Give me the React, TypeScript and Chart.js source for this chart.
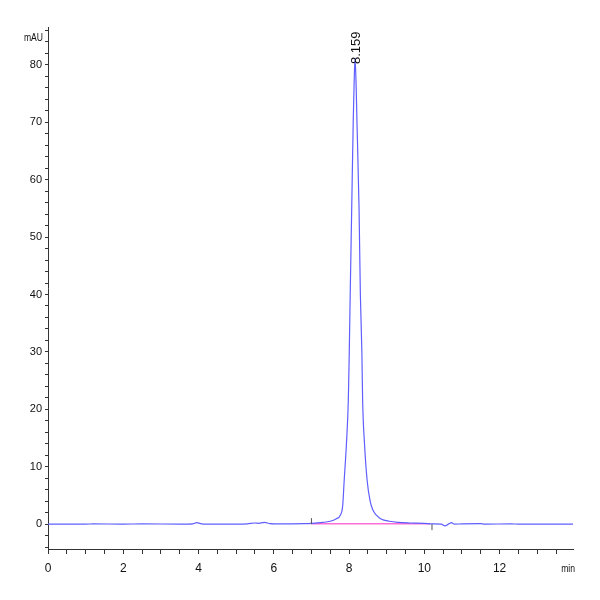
import React, {useEffect, useRef} from "react";
import {Chart, registerables} from 'chart.js';

Chart.register(...registerables);

// retention time (min) and signal (mAU)
const times: number[] = [
    0, 1.0, 1.2, 2.0, 2.5, 3.5, 3.85, 3.95, 4.05, 4.2, 5.0, 5.3, 5.5, 5.6, 5.75, 5.9, 6.2, 6.8,
    7.0, 7.3, 7.5, 7.65, 7.77, 7.83, 7.87, 7.93, 7.98, 8.005, 8.03, 8.07, 8.11, 8.135, 8.159,
    8.185, 8.21, 8.265, 8.30, 8.34, 8.36, 8.41, 8.48, 8.56, 8.63, 8.72, 8.85, 9.07, 9.3, 9.6,
    10.0, 10.2, 10.45, 10.55, 10.65, 10.72, 10.8, 11.0, 11.5, 11.6, 12.3, 12.5, 13.95,
];
const signal: number[] = [
    0, 0, 0.05, 0, 0.05, 0, 0.05, 0.25, 0.1, 0, 0, 0.05, 0.2, 0.15, 0.3, 0.1, 0.05, 0.1,
    0.15, 0.3, 0.5, 0.9, 1.6, 3.2, 7.6, 14, 21.6, 30, 40, 55, 70, 77, 81.2,
    77, 70, 55, 40, 30, 21.6, 14, 7.6, 4.0, 2.5, 1.6, 0.9, 0.5, 0.3, 0.2,
    0.15, 0.05, 0, -0.3, 0.05, 0.25, 0, 0.05, 0.1, 0, 0.05, 0, 0,
];
const baselineTimes: number[] = [7.0, 10.15];
const baselineValues: number[] = [0.05, 0.05];
const peakTime = 8.159;
const peakHeight = 81.2;
const peakLabel = '8.159';
const xMajorTicks: number[] = [0, 2, 4, 6, 8, 10, 12];
const yMajorTicks: number[] = [0, 10, 20, 30, 40, 50, 60, 70, 80];

const FONT = '"Liberation Sans", Arial, sans-serif';

const ChromChart: React.FC = () => {
    const canvasRef = useRef<HTMLCanvasElement>(null);

    useEffect(() => {
        if (!canvasRef.current) return;
        const ctx = canvasRef.current.getContext('2d');
        if (!ctx) return;

        const extras = {
            id: 'extras',
            afterDraw(chart: any) {
                const c = chart.ctx;
                const xs = chart.scales.x;
                const ys = chart.scales.y;
                c.save();
                c.fillStyle = '#111';
                c.font = '11px ' + FONT;
                c.textBaseline = 'middle';
                // narrow axis unit labels
                c.save();
                c.translate(43, 38);
                c.scale(0.78, 1);
                c.textAlign = 'right';
                c.fillText('mAU', 0, 0);
                c.restore();
                c.save();
                c.translate(575, 569);
                c.scale(0.78, 1);
                c.textAlign = 'right';
                c.fillText('min', 0, 0);
                c.restore();
                // peak label, rotated
                const px = xs.getPixelForValue(peakTime);
                const py = ys.getPixelForValue(peakHeight);
                c.font = '13px ' + FONT;
                c.translate(px + 1, py + 6);
                c.rotate(-Math.PI / 2);
                c.textAlign = 'left';
                c.fillText(peakLabel, 0, 0);
                c.restore();
                // integration marks
                c.save();
                c.strokeStyle = '#555';
                c.lineWidth = 1;
                const b0 = xs.getPixelForValue(baselineTimes[0]);
                const b1 = xs.getPixelForValue(baselineTimes[1]) + 2;
                const by = ys.getPixelForValue(0);
                c.beginPath();
                c.moveTo(b0, by - 6);
                c.lineTo(b0, by);
                c.moveTo(b1, by);
                c.lineTo(b1, by + 6);
                c.stroke();
                c.restore();
            },
        };

        const chart = new Chart(ctx, {
            type: 'line',
            data: {
                datasets: [
                    {
                        label: 'baseline',
                        data: baselineTimes.map((t, i) => ({x: t, y: baselineValues[i]})),
                        borderColor: 'rgb(255,110,215)',
                        borderWidth: 1.5,
                        pointRadius: 0,
                        order: 2,
                    },
                    {
                        label: 'signal',
                        data: times.map((t, i) => ({x: t, y: signal[i]})),
                        borderColor: 'rgb(95,95,255)',
                        borderWidth: 1.2,
                        pointRadius: 0,
                        cubicInterpolationMode: 'monotone',
                        order: 1,
                    },
                ],
            },
            options: {
                animation: false,
                responsive: false,
                maintainAspectRatio: false,
                layout: {padding: {top: 27, right: 27, left: 0, bottom: 0}},
                plugins: {legend: {display: false}, tooltip: {enabled: false}},
                scales: {
                    x: {
                        type: 'linear',
                        min: 0,
                        max: 13.95,
                        afterBuildTicks: (scale: any) => {
                            const t = [];
                            for (let v = 0; v <= 13.5; v += 0.5) t.push({value: v});
                            scale.ticks = t;
                        },
                        afterFit: (scale: any) => {
                            scale.height = 51;
                        },
                        ticks: {
                            autoSkip: false,
                            maxRotation: 0,
                            padding: 7,
                            color: '#111',
                            font: {family: FONT, size: 12},
                            callback: (v: any) => (xMajorTicks.includes(Number(v)) ? String(v) : ''),
                        },
                        grid: {drawOnChartArea: false, drawTicks: true, tickLength: 5, color: '#333'},
                        border: {display: true, color: '#333', width: 1},
                    },
                    y: {
                        min: -4.33,
                        max: 86.6,
                        afterBuildTicks: (scale: any) => {
                            const t = [];
                            for (let v = -4; v <= 86; v += 2) t.push({value: v});
                            scale.ticks = t;
                        },
                        afterFit: (scale: any) => {
                            scale.width = 48;
                        },
                        ticks: {
                            autoSkip: false,
                            padding: 3,
                            color: '#111',
                            font: {family: FONT, size: 11},
                            callback: (v: any) => (yMajorTicks.includes(Number(v)) ? String(v) : ''),
                        },
                        grid: {drawOnChartArea: false, drawTicks: true, tickLength: 3, color: '#333'},
                        border: {display: true, color: '#333', width: 1},
                    },
                },
            },
            plugins: [extras],
        });

        return () => {
            chart.destroy();
        };
    }, []);

    return <canvas ref={canvasRef} width={600} height={600} style={{width: 600, height: 600}}></canvas>;
};

const App: React.FC = () => (
    <div style={{position: 'fixed', left: 0, top: 0, width: 600, height: 600, background: '#fff'}}>
        <ChromChart/>
    </div>
);

export default App;
